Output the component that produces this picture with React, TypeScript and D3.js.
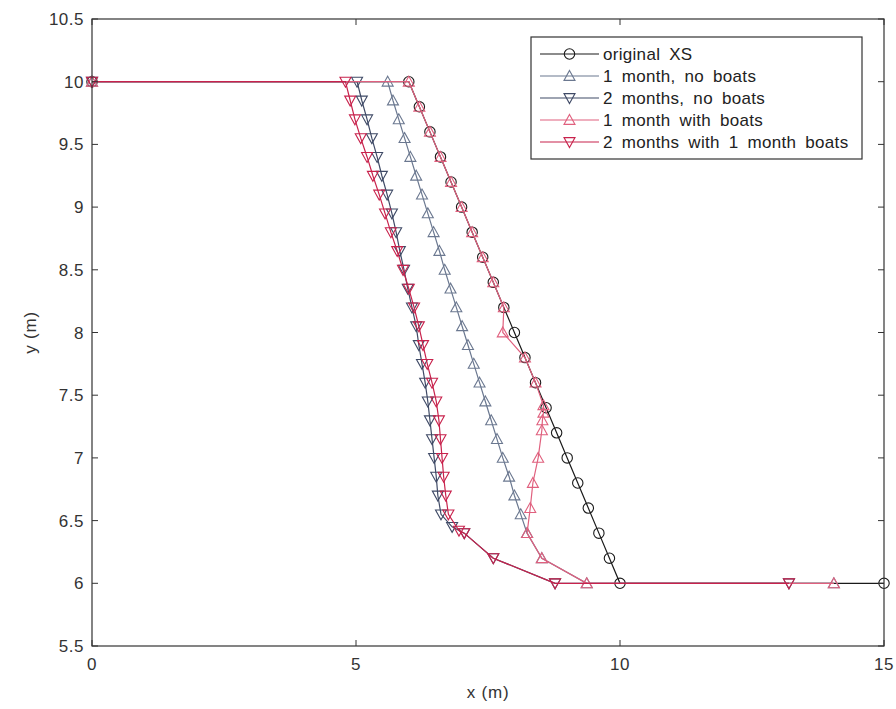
import React from "react";
import * as d3 from "d3";

const seriesNames = [
  "original XS",
  "1 month, no boats",
  "2 months, no boats",
  "1 month with boats",
  "2 months with 1 month boats",
];

const origX = [0, 6, 6.2, 6.4, 6.6, 6.8, 7, 7.2, 7.4, 7.6, 7.8, 8, 8.2, 8.4, 8.6, 8.8, 9, 9.2, 9.4, 9.6, 9.8, 10, 15];
const origY = [10, 10, 9.8, 9.6, 9.4, 9.2, 9, 8.8, 8.6, 8.4, 8.2, 8, 7.8, 7.6, 7.4, 7.2, 7, 6.8, 6.6, 6.4, 6.2, 6, 6];

const m1NoX = [0, 5.6, 5.7, 5.81, 5.92, 6.03, 6.14, 6.25, 6.36, 6.47, 6.58, 6.68, 6.79, 6.9, 7.01, 7.12, 7.23, 7.34, 7.45, 7.56, 7.67, 7.78, 7.9, 8.0, 8.12, 8.24, 8.52, 9.37, 14.05];
const m1NoY = [10, 10, 9.85, 9.7, 9.55, 9.4, 9.25, 9.1, 8.95, 8.8, 8.65, 8.5, 8.35, 8.2, 8.05, 7.9, 7.75, 7.6, 7.45, 7.3, 7.15, 7.0, 6.85, 6.7, 6.55, 6.4, 6.2, 6.0, 6.0];

const m2NoX = [0, 5.02, 5.11, 5.21, 5.3, 5.4, 5.49, 5.59, 5.68, 5.76, 5.83, 5.91, 5.98, 6.06, 6.14, 6.19, 6.25, 6.31, 6.36, 6.4, 6.44, 6.48, 6.52, 6.55, 6.61, 6.82, 7.05, 7.6, 8.77, 13.2];
const m2NoY = [10, 10, 9.85, 9.7, 9.55, 9.4, 9.25, 9.1, 8.95, 8.8, 8.65, 8.5, 8.35, 8.2, 8.05, 7.9, 7.75, 7.6, 7.45, 7.3, 7.15, 7.0, 6.85, 6.7, 6.55, 6.45, 6.4, 6.2, 6.0, 6.0];

const m1BoatX = [0, 6, 6.2, 6.4, 6.6, 6.8, 7, 7.2, 7.4, 7.6, 7.8, 7.78, 8.2, 8.4, 8.55, 8.55, 8.53, 8.52, 8.45, 8.35, 8.3, 8.24, 8.52, 9.37, 14.05];
const m1BoatY = [10, 10, 9.8, 9.6, 9.4, 9.2, 9, 8.8, 8.6, 8.4, 8.2, 8.0, 7.8, 7.6, 7.42, 7.36, 7.3, 7.22, 7.0, 6.8, 6.6, 6.4, 6.2, 6.0, 6.0];

const m2BoatX = [0, 4.8, 4.89, 4.98, 5.09, 5.21, 5.32, 5.44, 5.55, 5.66, 5.78, 5.89, 6.0, 6.1, 6.19, 6.27, 6.35, 6.44, 6.52, 6.57, 6.6, 6.63, 6.66, 6.7, 6.75, 6.95, 7.05, 7.6, 8.77, 13.2];
const m2BoatY = [10, 10, 9.85, 9.7, 9.55, 9.4, 9.25, 9.1, 8.95, 8.8, 8.65, 8.5, 8.35, 8.2, 8.05, 7.9, 7.75, 7.6, 7.45, 7.3, 7.15, 7.0, 6.85, 6.7, 6.55, 6.42, 6.4, 6.2, 6.0, 6.0];

const xTicks = [0, 5, 10, 15];
const yTicks = [5.5, 6, 6.5, 7, 7.5, 8, 8.5, 9, 9.5, 10, 10.5];

const seriesX = [origX, m1NoX, m2NoX, m1BoatX, m2BoatX];
const seriesY = [origY, m1NoY, m2NoY, m1BoatY, m2BoatY];
const colors = ["#1a1a1a", "#6b7890", "#3f4a66", "#e0607e", "#c8224c"];
const markers = ["circle", "up", "down", "up", "down"];

const W = 896, H = 709;
const L = 92, R = 884, T = 19, B = 646;

function Marker({ type, x, y, color }: { type: string; x: number; y: number; color: string }) {
  if (type === "circle") return <circle cx={x} cy={y} r={5.2} fill="none" stroke={color} strokeWidth={1.1} />;
  const s = 5.5;
  const d =
    type === "up"
      ? `M${x},${y - s} L${x + s},${y + s * 0.8} L${x - s},${y + s * 0.8} Z`
      : `M${x},${y + s} L${x + s},${y - s * 0.8} L${x - s},${y - s * 0.8} Z`;
  return <path d={d} fill="none" stroke={color} strokeWidth={1.1} />;
}

export default function App() {
  const xs = d3.scaleLinear().domain([0, 15]).range([L, R]);
  const ys = d3.scaleLinear().domain([5.5, 10.5]).range([B, T]);
  const line = d3.line<[number, number]>().x((d) => xs(d[0])).y((d) => ys(d[1]));
  const font = "'Liberation Sans', Arial, Helvetica, sans-serif";

  return (
    <svg width={W} height={H} style={{ position: "absolute", left: 0, top: 0, background: "#fff" }} fontFamily={font}>
      <rect x={0} y={0} width={W} height={H} fill="#fff" />
      {seriesX.map((sx, i) => {
        const pts = sx.map((v, j) => [v, seriesY[i][j]] as [number, number]);
        return (
          <g key={i}>
            <path d={line(pts) || ""} fill="none" stroke={colors[i]} strokeWidth={1.2} />
            {pts.map((p, j) => (
              <Marker key={j} type={markers[i]} x={xs(p[0])} y={ys(p[1])} color={colors[i]} />
            ))}
          </g>
        );
      })}
      <rect x={L} y={T} width={R - L} height={B - T} fill="none" stroke="#333" strokeWidth={1.2} />
      {xTicks.map((t) => (
        <g key={"x" + t}>
          <line x1={xs(t)} x2={xs(t)} y1={B} y2={B - 6} stroke="#333" />
          <line x1={xs(t)} x2={xs(t)} y1={T} y2={T + 6} stroke="#333" />
          <text x={xs(t)} y={B + 24} textAnchor="middle" fontSize={17} letterSpacing={0.5} fill="#333">{t}</text>
        </g>
      ))}
      {yTicks.map((t) => (
        <g key={"y" + t}>
          <line x1={L} x2={L + 6} y1={ys(t)} y2={ys(t)} stroke="#333" />
          <line x1={R} x2={R - 6} y1={ys(t)} y2={ys(t)} stroke="#333" />
          <text x={L - 8} y={ys(t) + 6} textAnchor="end" fontSize={17} letterSpacing={0.5} fill="#333">{t}</text>
        </g>
      ))}
      <text x={(L + R) / 2} y={698} textAnchor="middle" fontSize={17} letterSpacing={0.8} fill="#333">x (m)</text>
      <text transform={`translate(36,${(T + B) / 2}) rotate(-90)`} textAnchor="middle" fontSize={17} letterSpacing={0.8} fill="#333">y (m)</text>
      <g>
        <rect x={531} y={37} width={331} height={122} fill="#fff" stroke="#333" strokeWidth={1.2} />
        {seriesNames.map((n, i) => {
          const yy = 54 + i * 22;
          return (
            <g key={n}>
              <line x1={540} x2={599} y1={yy} y2={yy} stroke={colors[i]} strokeWidth={1.2} />
              <Marker type={markers[i]} x={569.5} y={yy} color={colors[i]} />
              <text x={603} y={yy + 6} fontSize={17} letterSpacing={0.3} wordSpacing={4} fill="#222">{n}</text>
            </g>
          );
        })}
      </g>
    </svg>
  );
}
